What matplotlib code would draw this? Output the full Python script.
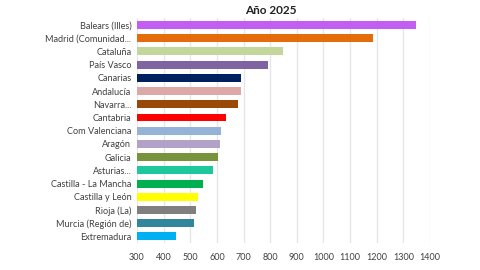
import matplotlib.pyplot as plt

plt.rcParams['font.family'] = ['Lato', 'DejaVu Sans']

# Data
regions = ["Balears (Illes)", "Madrid (Comunidad...", "Cataluña", "País Vasco",
           "Canarias", "Andalucía", "Navarra...", "Cantabria", "Com Valenciana",
           "Aragón", "Galicia", "Asturias...", "Castilla - La Mancha",
           "Castilla y León", "Rioja (La)", "Murcia (Región de)", "Extremadura"]
values = [1347, 1185, 848, 791, 690, 689, 680, 633, 615,
          611, 604, 585, 548, 530, 522, 513, 446]
colors = ["#C45EF2", "#E46C0A", "#C3D69B", "#8064A2", "#002060", "#DBA9A7",
          "#984807", "#FF0000", "#95B3D7", "#B3A2C7", "#77933C", "#1CC89C",
          "#00B050", "#FFFF00", "#7F7F7F", "#31859C", "#00B0F0"]
xticks = list(range(300, 1500, 100))

fig = plt.figure(figsize=(4.8, 2.7), dpi=100)
ax = fig.add_axes([137 / 480, 0.1, (430 - 137) / 480, 0.832])

pos = list(range(len(regions)))
ax.barh(pos, [v - 300 for v in values], left=300, height=0.6, color=colors, zorder=3)
ax.set_yticks(pos)
ax.set_yticklabels(regions, fontsize=6.6, color="#404040")
ax.set_ylim(len(regions) - 0.5, -0.5)
ax.set_xlim(300, 1400)
ax.set_xticks(xticks)
ax.set_xticklabels([str(t) for t in xticks], fontsize=6.5, color="#404040")
ax.tick_params(length=0, pad=4)
ax.tick_params(axis='x', pad=7)
ax.grid(axis='x', color="#E6E6E6", linewidth=1, zorder=0)
for s in ax.spines.values():
    s.set_visible(False)

fig.text(271 / 480, 1 - 10 / 270, "Año 2025", ha='center', va='center',
         fontsize=8.5, fontweight='bold', color="#222222")

fig.savefig("out.png", dpi=100)
